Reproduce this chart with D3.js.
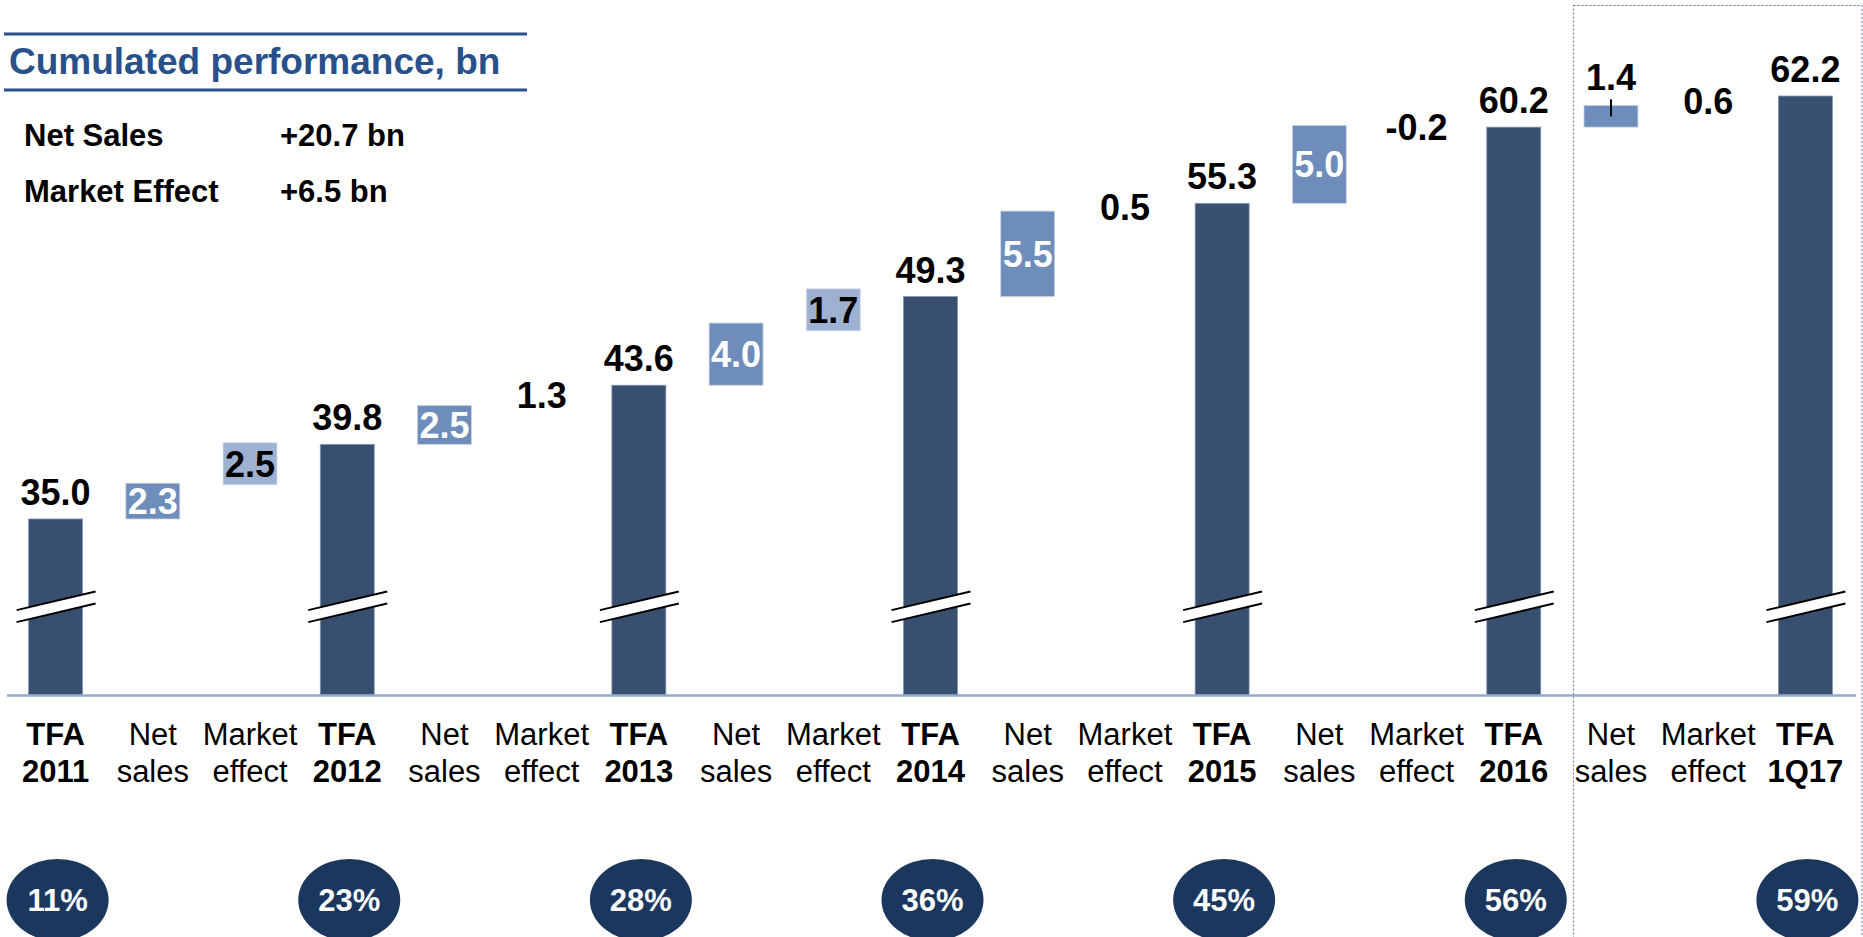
<!DOCTYPE html>
<html>
<head>
<meta charset="utf-8">
<script src="https://cdn.jsdelivr.net/npm/d3@7"></script>
<style>
  html, body { margin: 0; padding: 0; background: #fff; }
  svg { display: block; font-family: "Liberation Sans", Arial, sans-serif; }
</style>
</head>
<body>
<svg id="chart" width="1863" height="937"></svg>
<script>
// ---------- data ----------
const categoryLine1 = ["TFA","Net","Market","TFA","Net","Market","TFA","Net","Market","TFA","Net","Market","TFA","Net","Market","TFA","Net","Market","TFA"];
const categoryLine2 = ["2011","sales","effect","2012","sales","effect","2013","sales","effect","2014","sales","effect","2015","sales","effect","2016","sales","effect","1Q17"];
const categoryTypes = ["total","net","market","total","net","market","total","net","market","total","net","market","total","net","market","total","net","market","total"];
const tfaValues = [35.0, 39.8, 43.6, 49.3, 55.3, 60.2, 62.2];
const netSalesValues = [2.3, 2.5, 4.0, 5.5, 5.0, 1.4];
const marketEffectValues = [2.5, 1.3, 1.7, 0.5, -0.2, 0.6];
const percentLabels = ["11%","23%","28%","36%","45%","56%","59%"];
const summaryLabels = ["Net Sales", "Market Effect"];
const summaryValues = ["+20.7 bn", "+6.5 bn"];
const titleText = "Cumulated performance, bn";

// ---------- build waterfall rows ----------
const rows = [];
let ti = 0, ni = 0, mi = 0, running = 0;
categoryTypes.forEach((t, i) => {
  if (t === "total") {
    running = tfaValues[ti];
    rows.push({i, type: t, start: null, end: running, value: tfaValues[ti], pct: percentLabels[ti]});
    ti++;
  } else if (t === "net") {
    const v = netSalesValues[ni++];
    rows.push({i, type: t, start: running, end: running + v, value: v});
    running += v;
  } else {
    const v = marketEffectValues[mi++];
    rows.push({i, type: t, start: running, end: running + v, value: v});
    running += v;
  }
});

// ---------- scales ----------
const svg = d3.select("#chart");
const x = d3.scaleBand()
  .domain(d3.range(categoryTypes.length))
  .range([7, 1854])
  .paddingInner(0.445)
  .paddingOuter(0.2225);
const bw = x.bandwidth();
const cx = i => x(i) + bw / 2;
const y = d3.scaleLinear().domain([23.68, 67.09]).range([695, 20]);

const C = {
  tfa: "#394f6f", net: "#6f8dba", market: "#9fb1d1", ellipse: "#1b375e",
  title: "#28508a", axis: "#94abd0", frame: "#5677a8"
};

// ---------- dotted frame around 1Q17 section ----------
const frameX = x(16) - 10.5;
svg.append("rect")
  .attr("x", frameX).attr("y", 5.5)
  .attr("width", 1862 - frameX).attr("height", 960)
  .attr("fill", "none").attr("stroke", C.frame).attr("stroke-width", 1)
  .attr("stroke-dasharray", "2,2");

// ---------- title ----------
svg.append("line").attr("x1", 4).attr("x2", 527).attr("y1", 34).attr("y2", 34)
  .attr("stroke", C.title).attr("stroke-width", 3);
svg.append("line").attr("x1", 4).attr("x2", 527).attr("y1", 90).attr("y2", 90)
  .attr("stroke", C.title).attr("stroke-width", 3);
svg.append("text").attr("x", 9).attr("y", 74).text(titleText)
  .attr("font-size", 37).attr("font-weight", "bold").attr("fill", C.title);

// ---------- summary ----------
summaryLabels.forEach((s, k) => {
  svg.append("text").attr("x", 24).attr("y", 146 + k * 56).text(s)
    .attr("font-size", 31).attr("font-weight", "bold").attr("fill", "#000");
  svg.append("text").attr("x", 280).attr("y", 146 + k * 56).text(summaryValues[k])
    .attr("font-size", 31).attr("font-weight", "bold").attr("fill", "#000");
});

// ---------- total bars ----------
const totals = rows.filter(r => r.type === "total");
svg.selectAll(".tfa").data(totals).enter().append("rect")
  .attr("class", "tfa")
  .attr("x", d => x(d.i)).attr("width", bw)
  .attr("y", d => y(d.end)).attr("height", d => y.range()[0] - y(d.end))
  .attr("fill", C.tfa).attr("stroke", "#8194b3").attr("stroke-width", 0.8);

// axis break marks
const breakY = y(29.34);
totals.forEach(d => {
  const x1 = x(d.i) - 12, x2 = x(d.i) + bw + 13;
  const slope = -0.235, gap = 12;
  const yl = breakY + (x1 - cx(d.i)) * slope, yr = breakY + (x2 - cx(d.i)) * slope;
  svg.append("path")
    .attr("d", `M${x1},${yl - gap/2}L${x2},${yr - gap/2}L${x2},${yr + gap/2}L${x1},${yl + gap/2}Z`)
    .attr("fill", "#fff");
  svg.append("line").attr("x1", x1).attr("y1", yl - gap/2).attr("x2", x2).attr("y2", yr - gap/2)
    .attr("stroke", "#000").attr("stroke-width", 2);
  svg.append("line").attr("x1", x1).attr("y1", yl + gap/2).attr("x2", x2).attr("y2", yr + gap/2)
    .attr("stroke", "#000").attr("stroke-width", 2);
});

svg.selectAll(".tfaLabel").data(totals).enter().append("text")
  .attr("x", d => cx(d.i)).attr("y", d => y(d.end) - 14)
  .attr("text-anchor", "middle").attr("font-size", 36).attr("font-weight", "bold")
  .text(d => d.value.toFixed(1));

// ---------- floating boxes ----------
const capOff = 36 * 0.358;
rows.filter(r => r.type !== "total").forEach(d => {
  const top = Math.min(y(d.start), y(d.end)), bot = Math.max(y(d.start), y(d.end));
  const mid = (top + bot) / 2;
  const label = d.value.toFixed(1);
  if (d.type === "net") {
    const h = bot - top;
    svg.append("rect").attr("x", x(d.i)).attr("width", bw).attr("y", top).attr("height", h)
      .attr("fill", C.net).attr("stroke", "#c9d4e6").attr("stroke-width", 0.8);
    if (h >= 30) {
      svg.append("text").attr("x", cx(d.i)).attr("y", mid + capOff)
        .attr("text-anchor", "middle").attr("font-size", 36).attr("font-weight", "bold")
        .attr("fill", "#fff").text(label);
    } else {
      svg.append("text").attr("x", cx(d.i)).attr("y", top - 15)
        .attr("text-anchor", "middle").attr("font-size", 36).attr("font-weight", "bold")
        .attr("fill", "#000").text(label);
      svg.append("line").attr("x1", cx(d.i)).attr("x2", cx(d.i))
        .attr("y1", top - 6).attr("y2", top + 11).attr("stroke", "#000").attr("stroke-width", 2);
    }
  } else {
    if (Math.abs(d.value) >= 1.5) {
      const h = Math.max(bot - top, 42);
      svg.append("rect").attr("x", x(d.i)).attr("width", bw).attr("y", mid - h / 2).attr("height", h)
        .attr("fill", C.market).attr("stroke", "#d3dcec").attr("stroke-width", 0.8);
    }
    svg.append("text").attr("x", cx(d.i)).attr("y", mid + capOff)
      .attr("text-anchor", "middle").attr("font-size", 36).attr("font-weight", "bold")
      .attr("fill", "#000").text(label);
  }
});

// ---------- baseline ----------
svg.append("line").attr("x1", 7).attr("x2", 1856).attr("y1", 695.5).attr("y2", 695.5)
  .attr("stroke", C.axis).attr("stroke-width", 2.5);

// ---------- category labels ----------
rows.forEach(d => {
  const bold = d.type === "total";
  const t = svg.append("text").attr("text-anchor", "middle")
    .attr("font-size", 31).attr("font-weight", bold ? "bold" : "normal").attr("fill", "#000");
  t.append("tspan").attr("x", cx(d.i)).attr("y", 745).text(categoryLine1[d.i]);
  t.append("tspan").attr("x", cx(d.i)).attr("y", 782).text(categoryLine2[d.i]);
});

// ---------- percentage ellipses ----------
svg.selectAll(".pct").data(totals).enter().append("ellipse")
  .attr("cx", d => cx(d.i) + 2).attr("cy", 900).attr("rx", 51).attr("ry", 41)
  .attr("fill", C.ellipse);
svg.selectAll(".pctLabel").data(totals).enter().append("text")
  .attr("x", d => cx(d.i) + 2).attr("y", 911)
  .attr("text-anchor", "middle").attr("font-size", 31).attr("font-weight", "bold")
  .attr("fill", "#fff").text(d => d.pct);
</script>
</body>
</html>
